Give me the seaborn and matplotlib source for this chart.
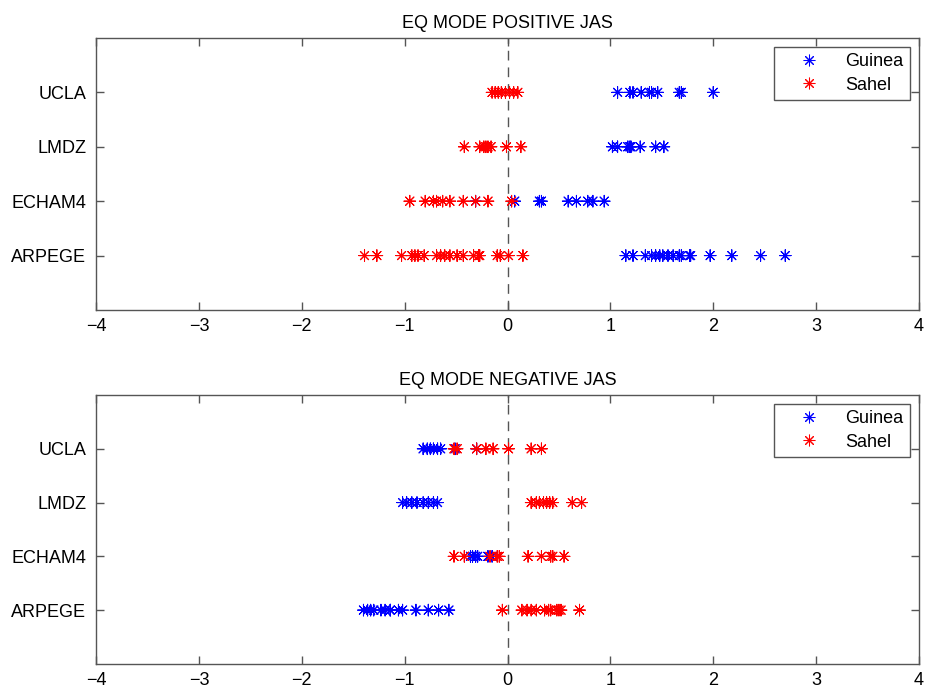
import numpy as np
import pandas as pd
import matplotlib
matplotlib.use("Agg")
import matplotlib.pyplot as plt
import seaborn as sns

# ---------------- data ----------------
models = ["ARPEGE", "ECHAM4", "LMDZ", "UCLA"]          # bottom to top
regions = ["Guinea", "Sahel"]
panel_titles = ["EQ MODE POSITIVE JAS", "EQ MODE NEGATIVE JAS"]
x_ticks = [-4, -3, -2, -1, 0, 1, 2, 3, 4]

# Positive JAS
pos_guinea_ucla = [1.07, 1.19, 1.22, 1.30, 1.38, 1.40, 1.46, 1.67, 1.69, 2.00]
pos_sahel_ucla = [-0.15, -0.12, -0.09, -0.06, -0.02, 0.02, 0.06, 0.10]
pos_guinea_lmdz = [1.02, 1.07, 1.17, 1.19, 1.20, 1.29, 1.44, 1.52]
pos_sahel_lmdz = [-0.42, -0.27, -0.23, -0.21, -0.19, -0.16, -0.01, 0.13]
pos_guinea_echam4 = [-0.31, 0.07, 0.31, 0.33, 0.59, 0.67, 0.78, 0.83, 0.94]
pos_sahel_echam4 = [-0.95, -0.80, -0.72, -0.69, -0.63, -0.56, -0.43, -0.31, -0.19, 0.04]
pos_guinea_arpege = [1.15, 1.22, 1.34, 1.40, 1.44, 1.48, 1.51, 1.56, 1.61, 1.67,
                     1.69, 1.77, 1.78, 1.97, 2.18, 2.46, 2.70]
pos_sahel_arpege = [-1.39, -1.27, -1.03, -0.93, -0.90, -0.87, -0.81, -0.69, -0.65, -0.61,
                    -0.56, -0.49, -0.43, -0.33, -0.28, -0.27, -0.10, -0.07, 0.01, 0.15]

# Negative JAS
neg_guinea_ucla = [-0.82, -0.78, -0.75, -0.72, -0.68, -0.65, -0.51, -0.30]
neg_sahel_ucla = [-0.52, -0.49, -0.30, -0.21, -0.14, 0.01, 0.23, 0.33]
neg_guinea_lmdz = [-1.02, -0.98, -0.93, -0.88, -0.82, -0.77, -0.72, -0.68]
neg_sahel_lmdz = [0.23, 0.28, 0.31, 0.35, 0.38, 0.41, 0.44, 0.63, 0.72]
neg_guinea_echam4 = [-0.36, -0.34, -0.31, -0.29, -0.19, -0.15]
neg_sahel_echam4 = [-0.52, -0.42, -0.17, -0.10, -0.08, 0.20, 0.33, 0.42, 0.44, 0.55]
neg_guinea_arpege = [-1.40, -1.36, -1.33, -1.30, -1.23, -1.19, -1.14, -1.14, -1.06, -1.02,
                     -0.89, -0.77, -0.67, -0.57]
neg_sahel_arpege = [-0.05, 0.14, 0.19, 0.23, 0.28, 0.36, 0.40, 0.42, 0.48, 0.50, 0.52, 0.70]

panels = [
    {
        "Guinea": {"UCLA": pos_guinea_ucla, "LMDZ": pos_guinea_lmdz,
                   "ECHAM4": pos_guinea_echam4, "ARPEGE": pos_guinea_arpege},
        "Sahel": {"UCLA": pos_sahel_ucla, "LMDZ": pos_sahel_lmdz,
                  "ECHAM4": pos_sahel_echam4, "ARPEGE": pos_sahel_arpege},
    },
    {
        "Guinea": {"UCLA": neg_guinea_ucla, "LMDZ": neg_guinea_lmdz,
                   "ECHAM4": neg_guinea_echam4, "ARPEGE": neg_guinea_arpege},
        "Sahel": {"UCLA": neg_sahel_ucla, "LMDZ": neg_sahel_lmdz,
                  "ECHAM4": neg_sahel_echam4, "ARPEGE": neg_sahel_arpege},
    },
]

# ---------------- style ----------------
sns.set_style("ticks")
plt.rcParams["font.family"] = ["Liberation Sans", "DejaVu Sans"]
plt.rcParams["axes.edgecolor"] = "#555555"
plt.rcParams["axes.linewidth"] = 1.0
plt.rcParams["xtick.color"] = "#555555"
plt.rcParams["ytick.color"] = "#555555"
plt.rcParams["xtick.labelcolor"] = "black"
plt.rcParams["ytick.labelcolor"] = "black"
plt.rcParams["text.color"] = "black"

palette = {"Guinea": "#0000ff", "Sahel": "#ff0000"}
asterisk = (8, 2, 0)

fig = plt.figure(figsize=(9.33, 6.93), dpi=100)
ax_top = fig.add_axes([0.1029, 0.5527, 0.8821, 0.3925])
ax_bot = fig.add_axes([0.1029, 0.0420, 0.8821, 0.3880])

for ax, panel, title in zip([ax_top, ax_bot], panels, panel_titles):
    rows = []
    for region in regions:
        for i, model in enumerate(models):
            for v in panel[region][model]:
                rows.append({"value": v, "ypos": i + 1, "region": region})
    df = pd.DataFrame(rows)

    ax.axvline(0, color="#555555", lw=1.0, dashes=(7, 5), zorder=1)
    sns.scatterplot(data=df, x="value", y="ypos", hue="region", hue_order=regions,
                    palette=palette, marker=asterisk, s=70, linewidth=0.75,
                    ax=ax, zorder=3)

    ax.set_xlim(-4, 4)
    ax.set_ylim(0, 5)
    ax.set_xticks(x_ticks)
    ax.set_xticklabels([f"{t}".replace("-", "\u2212") for t in x_ticks])
    ax.set_yticks(range(1, len(models) + 1))
    ax.set_yticklabels(models)
    ax.set_xlabel("")
    ax.set_ylabel("")
    ax.set_title(title, fontsize=13, pad=7, color="black")
    ax.tick_params(axis="both", direction="in", length=6, width=1.0,
                   top=True, right=True, labelsize=13)
    ax.tick_params(axis="x", pad=6)
    ax.tick_params(axis="y", pad=7)
    for sp in ax.spines.values():
        sp.set_visible(True)
        sp.set_color("#555555")

    handles, labels = ax.get_legend_handles_labels()
    ax.legend(handles, labels, loc="upper right", fontsize=13, frameon=True,
              fancybox=False, framealpha=1, edgecolor="#555555",
              handlelength=3.2, handletextpad=0.4, borderpad=0.35,
              labelspacing=0.35, borderaxespad=0.5, markerscale=1.0)
    ax.get_legend().get_frame().set_linewidth(1.0)

fig.savefig("out.png", dpi=100)
